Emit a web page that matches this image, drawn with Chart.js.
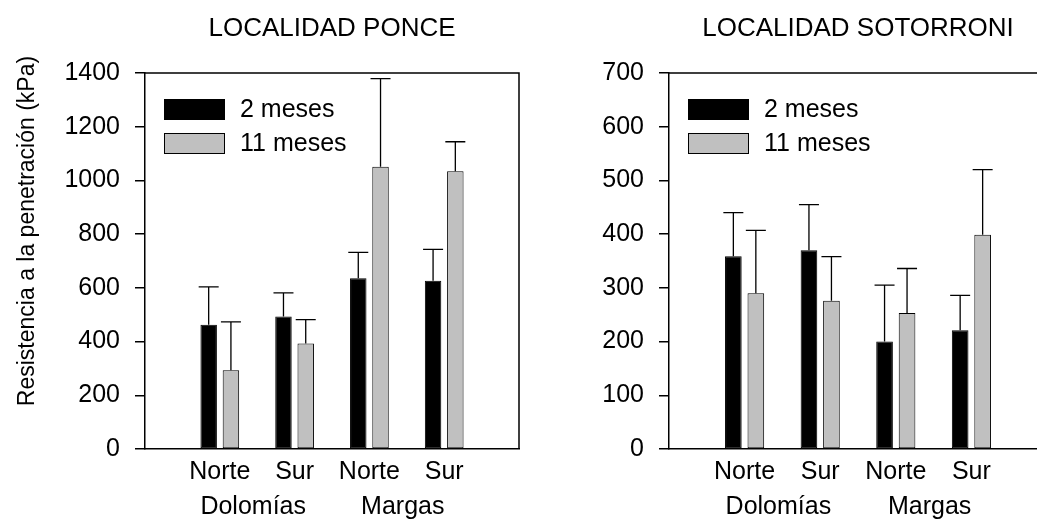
<!DOCTYPE html>
<html><head><meta charset="utf-8">
<script src="https://cdn.jsdelivr.net/npm/chart.js@4.4.0/dist/chart.umd.min.js"></script>
<style>
html,body{margin:0;padding:0;background:#fff;overflow:hidden;width:1037px;height:522px;position:relative;}
canvas{position:absolute;top:0;}
#c1{left:0}
#c2{left:524px}
</style></head><body>
<canvas id="c1" width="530" height="522"></canvas>
<canvas id="c2" width="534" height="522"></canvas>
<script>
// ---- data ----
const categories = ['', 'Norte', 'Sur', 'Norte', 'Sur', ''];
const groups = ['Dolomías', 'Margas'];
const seriesNames = ['2 meses', '11 meses'];
const titles = ['LOCALIDAD PONCE', 'LOCALIDAD SOTORRONI'];
const yAxisTitle = 'Resistencia a la penetración (kPa)';

const ponce2 = [463, 493, 636, 626];
const ponce11 = [293, 393, 1051, 1034];
const ponceErr2 = [141, 88, 96, 117];
const ponceErr11 = [180, 89, 328, 110];

const soto2 = [359, 370, 200, 221];
const soto11 = [290, 276, 253, 399];
const sotoErr2 = [81, 85, 105, 65];
const sotoErr11 = [117, 82, 83, 121];

const ponceTicks = [0, 1400, 200];
const sotoTicks = [0, 700, 100];

// ---- styling ----
const FONT = '"Liberation Sans", Arial, Helvetica, sans-serif';
const FS = 25;
const colors = ['#000000', '#c0c0c0'];
Chart.defaults.font.family = FONT;
Chart.defaults.color = '#000';

const pad = a => [null, ...a, null];

const errPlugin = {
  id: 'errBars',
  afterDatasetsDraw(chart) {
    const ctx = chart.ctx, ys = chart.scales.y;
    ctx.save();
    ctx.strokeStyle = '#000';
    ctx.lineWidth = 1.3;
    chart.data.datasets.forEach((ds, i) => {
      const meta = chart.getDatasetMeta(i);
      meta.data.forEach((bar, j) => {
        const v = ds.data[j], e = ds.errors[j];
        if (v == null || e == null) return;
        const y0 = ys.getPixelForValue(v), y1 = ys.getPixelForValue(v + e);
        ctx.beginPath();
        ctx.moveTo(bar.x, y0); ctx.lineTo(bar.x, y1);
        ctx.moveTo(bar.x - 10, y1); ctx.lineTo(bar.x + 10, y1);
        ctx.stroke();
      });
    });
    ctx.restore();
  }
};

const decoPlugin = {
  id: 'deco',
  afterDraw(chart) {
    const ctx = chart.ctx, a = chart.chartArea, xs = chart.scales.x;
    ctx.save();
    ctx.strokeStyle = '#000'; ctx.lineWidth = 1.5;
    ctx.beginPath();
    ctx.moveTo(a.left, a.top); ctx.lineTo(a.right, a.top); ctx.lineTo(a.right, a.bottom);
    ctx.stroke();
    const lx = a.left + 19, ly = a.top + 26;
    chart.data.datasets.forEach((ds, i) => {
      const by = ly + i * 34;
      ctx.fillStyle = ds.backgroundColor;
      ctx.fillRect(lx, by, 61, 21);
      ctx.lineWidth = 1; ctx.strokeStyle = '#000';
      ctx.strokeRect(lx + 0.5, by + 0.5, 60, 20);
      ctx.fillStyle = '#000';
      ctx.font = FS + 'px ' + FONT;
      ctx.textAlign = 'left'; ctx.textBaseline = 'middle';
      ctx.fillText(ds.label, lx + 76, by + 11);
    });
    ctx.font = FS + 'px ' + FONT;
    ctx.textAlign = 'center'; ctx.textBaseline = 'middle';
    groups.forEach((g, k) => {
      const p1 = xs.getPixelForValue(1 + 2 * k), p2 = xs.getPixelForValue(2 + 2 * k);
      ctx.fillText(g, (p1 + p2) / 2 - 4, xs.top + 58.5);
    });
    const yt = chart.options.plugins.deco && chart.options.plugins.deco.yTitle;
    if (yt) {
      ctx.save();
      ctx.translate(28, 231);
      ctx.rotate(-Math.PI / 2);
      ctx.font = '23px ' + FONT;
      ctx.fillText(yt, 0, 0);
      ctx.restore();
    }
    ctx.restore();
  }
};

function makeChart(id, title, d2, d11, e2, e11, ticks, yTitle) {
  return new Chart(document.getElementById(id), {
    type: 'bar',
    data: {
      labels: categories,
      datasets: [
        { label: seriesNames[0], data: pad(d2), errors: pad(e2), backgroundColor: colors[0], borderColor: '#000', borderWidth: 1, borderSkipped: false },
        { label: seriesNames[1], data: pad(d11), errors: pad(e11), backgroundColor: colors[1], borderColor: '#000', borderWidth: 1, borderSkipped: false }
      ]
    },
    options: {
      responsive: false,
      animation: false,
      categoryPercentage: 0.595,
      barPercentage: 0.74,
      layout: { padding: { left: 0, right: 11, top: 0, bottom: 0 } },
      plugins: {
        legend: { display: false },
        tooltip: { enabled: false },
        title: { display: true, text: title, fullSize: false, color: '#000', font: { size: 26, weight: 'normal', family: FONT }, padding: { top: 12.8, bottom: 29 } },
        deco: { yTitle: yTitle }
      },
      scales: {
        x: {
          offset: false,
          grid: { offset: false, display: true, drawOnChartArea: false, drawTicks: false },
          border: { display: true, color: '#000', width: 1.5 },
          ticks: { padding: 8.4, color: '#000', font: { size: FS }, autoSkip: false, maxRotation: 0 },
          afterFit(s) { s.height = 73; }
        },
        y: {
          min: ticks[0], max: ticks[1],
          ticks: { stepSize: ticks[2], padding: 15, color: '#000', font: { size: FS }, callback: v => String(v) },
          grid: { drawOnChartArea: false, drawTicks: true, tickLength: 10, color: '#000', lineWidth: 1.5 },
          border: { display: true, color: '#000', width: 1.5 },
          afterFit(s) { s.width = 145; }
        }
      }
    },
    plugins: [errPlugin, decoPlugin]
  });
}

makeChart('c1', titles[0], ponce2, ponce11, ponceErr2, ponceErr11, ponceTicks, yAxisTitle);
makeChart('c2', titles[1], soto2, soto11, sotoErr2, sotoErr11, sotoTicks, null);
</script>
</body></html>
